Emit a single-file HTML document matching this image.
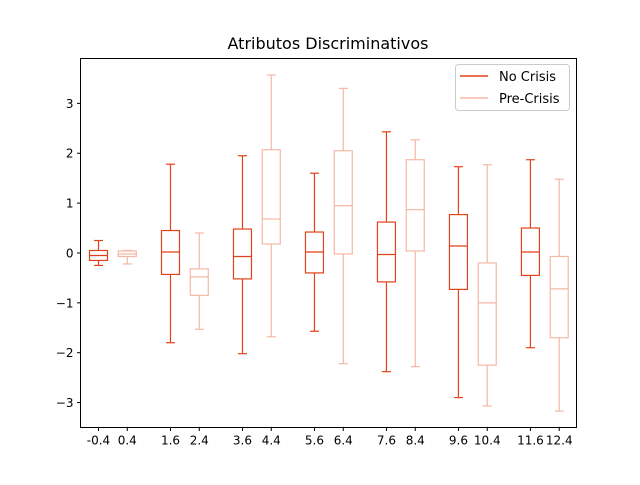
<!DOCTYPE html>
<html><head><meta charset="utf-8"><style>
body{margin:0;background:#fff}
svg text{font-family:"DejaVu Sans","Liberation Sans",sans-serif;fill:#000}
</style></head><body>
<svg id="chart" width="640" height="480" viewBox="0 0 640 480" xmlns="http://www.w3.org/2000/svg">
<rect width="640" height="480" fill="#fff"/>
<text x="328" y="49" font-size="16" text-anchor="middle">Atributos Discriminativos</text>
<g id="plot"></g>
<rect x="80.5" y="58.5" width="496" height="369" fill="none" stroke="#000" stroke-width="1"/>
<g>
<rect x="455.5" y="64.5" width="114" height="46" rx="3" fill="#fff" fill-opacity="0.8" stroke="#ccc"/>
<line x1="460" y1="76" x2="488" y2="76" stroke="#e0421b" stroke-width="1.5"/>
<text x="499" y="81" font-size="13">No Crisis</text>
<line x1="460" y1="98" x2="488" y2="98" stroke="#f6b7a5" stroke-width="1.5"/>
<text x="499" y="103" font-size="13">Pre-Crisis</text>
</g>
</svg>
<script>
const positionsA = [-0.4, 1.6, 3.6, 5.6, 7.6, 9.6, 11.6];
const positionsB = [0.4, 2.4, 4.4, 6.4, 8.4, 10.4, 12.4];
const whiskHiA = [0.25, 1.78, 1.95, 1.6, 2.43, 1.73, 1.87];
const q3A = [0.05, 0.45, 0.48, 0.42, 0.62, 0.77, 0.5];
const medA = [-0.05, 0.02, -0.07, 0.02, -0.03, 0.14, 0.02];
const q1A = [-0.15, -0.43, -0.52, -0.4, -0.58, -0.73, -0.45];
const whiskLoA = [-0.25, -1.8, -2.02, -1.57, -2.38, -2.9, -1.9];
const whiskHiB = [0.05, 0.4, 3.57, 3.3, 2.27, 1.77, 1.48];
const q3B = [0.04, -0.32, 2.07, 2.05, 1.87, -0.2, -0.07];
const medB = [-0.02, -0.48, 0.68, 0.95, 0.87, -1.0, -0.72];
const q1B = [-0.07, -0.85, 0.18, -0.02, 0.04, -2.25, -1.7];
const whiskLoB = [-0.22, -1.53, -1.68, -2.22, -2.28, -3.07, -3.17];
const xTicks = [-0.4, 0.4, 1.6, 2.4, 3.6, 4.4, 5.6, 6.4, 7.6, 8.4, 9.6, 10.4, 11.6, 12.4];
const xTickLabels = ["-0.4","0.4","1.6","2.4","3.6","4.4","5.6","6.4","7.6","8.4","9.6","10.4","11.612.4",""];
const yTicks = [-3, -2, -1, 0, 1, 2, 3];

const L=80.5,R=576.5,T=58.5,B=427.5;
const xMin=-0.9,xMax=12.88,yMin=-3.5,yMax=3.9;
const sx=v=>L+(v-xMin)/(xMax-xMin)*(R-L);
const sy=v=>B-(v-yMin)/(yMax-yMin)*(B-T);
const NS="http://www.w3.org/2000/svg";
const g=document.getElementById('plot');
function mk(tag,attrs){const e=document.createElementNS(NS,tag);for(const k in attrs)e.setAttribute(k,attrs[k]);g.appendChild(e);return e;}

yTicks.forEach(v=>{
  const t=mk('line',{x1:L-3.5,x2:L,y1:sy(v),y2:sy(v),stroke:'#000'});
  
  
  const tx=mk('text',{x:L-7,y:sy(v)+4.5,'font-size':12,'text-anchor':'end'});
  tx.textContent=(v<0?'\u2212':'')+Math.abs(v);
  
  
});
xTicks.forEach((v,i)=>{
  const t=mk('line',{x1:sx(v),x2:sx(v),y1:B,y2:B+3.5,stroke:'#000'});
  
  
  const s=v<0?'-'+Math.abs(v):String(v);
  const tx=mk('text',{x:sx(v),y:B+17,'font-size':12,'text-anchor':'middle'});
  tx.textContent=s;
  
  
});

function box(pos,hi,q3,md,q1,lo,color,name){
  const w=0.5,x0=sx(pos-w/2),x1=sx(pos+w/2),xc=sx(pos),cw=(x1-x0)/2;
  const r=mk('rect',{x:x0,y:sy(q3),width:x1-x0,height:sy(q1)-sy(q3),fill:'none',stroke:color,'stroke-width':1.2});
  
  
  const m=mk('line',{x1:x0,x2:x1,y1:sy(md),y2:sy(md),stroke:color,'stroke-width':1.2});
  
  
  const w1=mk('line',{x1:xc,x2:xc,y1:sy(q3),y2:sy(hi),stroke:color,'stroke-width':1.2});
  
  
  const w2=mk('line',{x1:xc,x2:xc,y1:sy(q1),y2:sy(lo),stroke:color,'stroke-width':1.2});
  
  
  const c1=mk('line',{x1:xc-cw/2,x2:xc+cw/2,y1:sy(hi),y2:sy(hi),stroke:color,'stroke-width':1.2});
  
  
  const c2=mk('line',{x1:xc-cw/2,x2:xc+cw/2,y1:sy(lo),y2:sy(lo),stroke:color,'stroke-width':1.2});
  
  
}
positionsA.forEach((p,i)=>box(p,whiskHiA[i],q3A[i],medA[i],q1A[i],whiskLoA[i],'#e0421b','no-crisis'));
positionsB.forEach((p,i)=>box(p,whiskHiB[i],q3B[i],medB[i],q1B[i],whiskLoB[i],'#f6b7a5','pre-crisis'));
</script>
</body></html>
